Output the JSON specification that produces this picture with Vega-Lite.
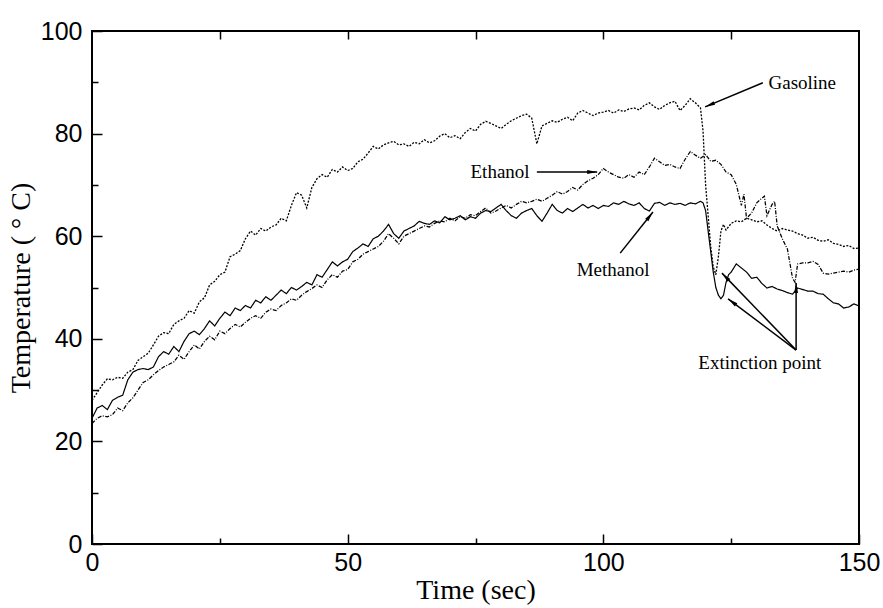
{
"$schema": "https://vega.github.io/schema/vega-lite/v6.json",
"autosize": "none",
"width": 767,
"height": 513,
"padding": {"left": 92, "top": 31, "right": 24, "bottom": 64},
"background": "white",
"config": {
  "view": {"stroke": "black", "strokeWidth": 2},
  "axis": {"domain": false, "grid": false, "tickColor": "black", "tickWidth": 1.5, "labelColor": "black", "labelFont": "Liberation Sans", "labelFontSize": 25, "titleFont": "Liberation Serif", "titleFontSize": 28, "titleFontWeight": "normal", "titleColor": "black", "labelFlush": false, "labelOverlap": false, "labelBound": false}
},
"datasets": {
  "temps": [
{"series":"Gasoline","time":0,"temp":28.0},{"series":"Gasoline","time":1,"temp":29.5},{"series":"Gasoline","time":2,"temp":31.0},{"series":"Gasoline","time":3,"temp":32.2},{"series":"Gasoline","time":4,"temp":32.0},{"series":"Gasoline","time":5,"temp":32.5},{"series":"Gasoline","time":6,"temp":32.3},{"series":"Gasoline","time":7,"temp":33.5},{"series":"Gasoline","time":8,"temp":34.0},{"series":"Gasoline","time":9,"temp":35.8},{"series":"Gasoline","time":10,"temp":36.5},{"series":"Gasoline","time":11,"temp":37.2},{"series":"Gasoline","time":12,"temp":38.8},{"series":"Gasoline","time":13,"temp":40.5},{"series":"Gasoline","time":14,"temp":41.2},{"series":"Gasoline","time":15,"temp":41.0},{"series":"Gasoline","time":16,"temp":42.8},{"series":"Gasoline","time":17,"temp":43.5},{"series":"Gasoline","time":18,"temp":44.0},{"series":"Gasoline","time":19,"temp":45.5},{"series":"Gasoline","time":20,"temp":45.0},{"series":"Gasoline","time":21,"temp":47.2},{"series":"Gasoline","time":22,"temp":48.0},{"series":"Gasoline","time":23,"temp":50.5},{"series":"Gasoline","time":24,"temp":51.2},{"series":"Gasoline","time":25,"temp":52.5},{"series":"Gasoline","time":26,"temp":53.0},{"series":"Gasoline","time":27,"temp":56.0},{"series":"Gasoline","time":28,"temp":56.5},{"series":"Gasoline","time":29,"temp":57.2},{"series":"Gasoline","time":30,"temp":59.5},{"series":"Gasoline","time":31,"temp":61.0},{"series":"Gasoline","time":32,"temp":60.2},{"series":"Gasoline","time":33,"temp":61.5},{"series":"Gasoline","time":34,"temp":61.0},{"series":"Gasoline","time":35,"temp":61.8},{"series":"Gasoline","time":36,"temp":62.2},{"series":"Gasoline","time":37,"temp":63.5},{"series":"Gasoline","time":38,"temp":63.0},{"series":"Gasoline","time":39,"temp":66.0},{"series":"Gasoline","time":40,"temp":68.5},{"series":"Gasoline","time":41,"temp":68.0},{"series":"Gasoline","time":42,"temp":65.5},{"series":"Gasoline","time":43,"temp":69.5},{"series":"Gasoline","time":44,"temp":71.2},{"series":"Gasoline","time":45,"temp":72.0},{"series":"Gasoline","time":46,"temp":71.5},{"series":"Gasoline","time":47,"temp":73.0},{"series":"Gasoline","time":48,"temp":72.5},{"series":"Gasoline","time":49,"temp":73.5},{"series":"Gasoline","time":50,"temp":72.8},{"series":"Gasoline","time":51,"temp":73.2},{"series":"Gasoline","time":52,"temp":74.5},{"series":"Gasoline","time":53,"temp":75.0},{"series":"Gasoline","time":54,"temp":76.2},{"series":"Gasoline","time":55,"temp":77.5},{"series":"Gasoline","time":56,"temp":77.0},{"series":"Gasoline","time":57,"temp":77.8},{"series":"Gasoline","time":58,"temp":78.2},{"series":"Gasoline","time":59,"temp":78.5},{"series":"Gasoline","time":60,"temp":77.8},{"series":"Gasoline","time":61,"temp":78.0},{"series":"Gasoline","time":62,"temp":77.5},{"series":"Gasoline","time":63,"temp":78.3},{"series":"Gasoline","time":64,"temp":78.0},{"series":"Gasoline","time":65,"temp":78.8},{"series":"Gasoline","time":66,"temp":78.2},{"series":"Gasoline","time":67,"temp":78.6},{"series":"Gasoline","time":68,"temp":79.5},{"series":"Gasoline","time":69,"temp":80.0},{"series":"Gasoline","time":70,"temp":79.2},{"series":"Gasoline","time":71,"temp":79.6},{"series":"Gasoline","time":72,"temp":79.0},{"series":"Gasoline","time":73,"temp":80.2},{"series":"Gasoline","time":74,"temp":81.0},{"series":"Gasoline","time":75,"temp":80.5},{"series":"Gasoline","time":76,"temp":81.8},{"series":"Gasoline","time":77,"temp":82.4},{"series":"Gasoline","time":78,"temp":82.0},{"series":"Gasoline","time":79,"temp":81.5},{"series":"Gasoline","time":80,"temp":81.0},{"series":"Gasoline","time":81,"temp":81.8},{"series":"Gasoline","time":82,"temp":82.5},{"series":"Gasoline","time":83,"temp":83.0},{"series":"Gasoline","time":84,"temp":83.5},{"series":"Gasoline","time":85,"temp":83.8},{"series":"Gasoline","time":86,"temp":83.0},{"series":"Gasoline","time":87,"temp":78.0},{"series":"Gasoline","time":88,"temp":81.5},{"series":"Gasoline","time":89,"temp":82.0},{"series":"Gasoline","time":90,"temp":82.5},{"series":"Gasoline","time":91,"temp":82.2},{"series":"Gasoline","time":92,"temp":82.8},{"series":"Gasoline","time":93,"temp":83.2},{"series":"Gasoline","time":94,"temp":82.5},{"series":"Gasoline","time":95,"temp":84.0},{"series":"Gasoline","time":96,"temp":84.5},{"series":"Gasoline","time":97,"temp":84.0},{"series":"Gasoline","time":98,"temp":83.5},{"series":"Gasoline","time":99,"temp":84.0},{"series":"Gasoline","time":100,"temp":84.2},{"series":"Gasoline","time":101,"temp":84.5},{"series":"Gasoline","time":102,"temp":84.0},{"series":"Gasoline","time":103,"temp":84.6},{"series":"Gasoline","time":104,"temp":84.3},{"series":"Gasoline","time":105,"temp":84.8},{"series":"Gasoline","time":106,"temp":85.0},{"series":"Gasoline","time":107,"temp":84.6},{"series":"Gasoline","time":108,"temp":85.5},{"series":"Gasoline","time":109,"temp":86.0},{"series":"Gasoline","time":110,"temp":85.2},{"series":"Gasoline","time":111,"temp":84.7},{"series":"Gasoline","time":112,"temp":85.5},{"series":"Gasoline","time":113,"temp":86.0},{"series":"Gasoline","time":114,"temp":86.3},{"series":"Gasoline","time":115,"temp":84.5},{"series":"Gasoline","time":116,"temp":85.5},{"series":"Gasoline","time":117,"temp":86.8},{"series":"Gasoline","time":118,"temp":86.0},{"series":"Gasoline","time":119,"temp":85.0},{"series":"Gasoline","time":119.5,"temp":80.5},{"series":"Gasoline","time":120,"temp":70.0},{"series":"Gasoline","time":120.5,"temp":64.0},{"series":"Gasoline","time":121,"temp":58.0},{"series":"Gasoline","time":121.5,"temp":54.0},{"series":"Gasoline","time":122,"temp":52.5},{"series":"Gasoline","time":122.5,"temp":56.0},{"series":"Gasoline","time":123,"temp":61.0},{"series":"Gasoline","time":123.5,"temp":62.3},{"series":"Gasoline","time":124,"temp":61.2},{"series":"Gasoline","time":125,"temp":62.5},{"series":"Gasoline","time":126,"temp":63.0},{"series":"Gasoline","time":127,"temp":62.8},{"series":"Gasoline","time":128,"temp":63.5},{"series":"Gasoline","time":129,"temp":63.2},{"series":"Gasoline","time":130,"temp":62.8},{"series":"Gasoline","time":131,"temp":63.0},{"series":"Gasoline","time":132,"temp":62.2},{"series":"Gasoline","time":133,"temp":61.5},{"series":"Gasoline","time":134,"temp":61.0},{"series":"Gasoline","time":135,"temp":61.5},{"series":"Gasoline","time":136,"temp":61.2},{"series":"Gasoline","time":137,"temp":61.0},{"series":"Gasoline","time":138,"temp":60.5},{"series":"Gasoline","time":139,"temp":60.2},{"series":"Gasoline","time":140,"temp":59.6},{"series":"Gasoline","time":141,"temp":59.8},{"series":"Gasoline","time":142,"temp":59.2},{"series":"Gasoline","time":143,"temp":59.0},{"series":"Gasoline","time":144,"temp":59.3},{"series":"Gasoline","time":145,"temp":58.6},{"series":"Gasoline","time":146,"temp":58.4},{"series":"Gasoline","time":147,"temp":58.0},{"series":"Gasoline","time":148,"temp":58.2},{"series":"Gasoline","time":149,"temp":57.6},{"series":"Gasoline","time":150,"temp":57.7},
{"series":"Methanol","time":0,"temp":24.5},{"series":"Methanol","time":1,"temp":26.5},{"series":"Methanol","time":2,"temp":27.0},{"series":"Methanol","time":3,"temp":26.2},{"series":"Methanol","time":4,"temp":28.0},{"series":"Methanol","time":5,"temp":28.6},{"series":"Methanol","time":6,"temp":29.0},{"series":"Methanol","time":7,"temp":32.0},{"series":"Methanol","time":8,"temp":33.5},{"series":"Methanol","time":9,"temp":34.0},{"series":"Methanol","time":10,"temp":34.2},{"series":"Methanol","time":11,"temp":34.0},{"series":"Methanol","time":12,"temp":34.5},{"series":"Methanol","time":13,"temp":36.5},{"series":"Methanol","time":14,"temp":37.5},{"series":"Methanol","time":15,"temp":37.0},{"series":"Methanol","time":16,"temp":38.5},{"series":"Methanol","time":17,"temp":37.5},{"series":"Methanol","time":18,"temp":39.5},{"series":"Methanol","time":19,"temp":41.0},{"series":"Methanol","time":20,"temp":41.5},{"series":"Methanol","time":21,"temp":40.8},{"series":"Methanol","time":22,"temp":42.0},{"series":"Methanol","time":23,"temp":43.5},{"series":"Methanol","time":24,"temp":42.5},{"series":"Methanol","time":25,"temp":44.0},{"series":"Methanol","time":26,"temp":45.2},{"series":"Methanol","time":27,"temp":44.5},{"series":"Methanol","time":28,"temp":46.0},{"series":"Methanol","time":29,"temp":45.5},{"series":"Methanol","time":30,"temp":46.5},{"series":"Methanol","time":31,"temp":46.0},{"series":"Methanol","time":32,"temp":47.5},{"series":"Methanol","time":33,"temp":47.0},{"series":"Methanol","time":34,"temp":48.2},{"series":"Methanol","time":35,"temp":47.5},{"series":"Methanol","time":36,"temp":48.5},{"series":"Methanol","time":37,"temp":49.5},{"series":"Methanol","time":38,"temp":48.8},{"series":"Methanol","time":39,"temp":50.0},{"series":"Methanol","time":40,"temp":49.5},{"series":"Methanol","time":41,"temp":50.2},{"series":"Methanol","time":42,"temp":51.0},{"series":"Methanol","time":43,"temp":50.5},{"series":"Methanol","time":44,"temp":52.5},{"series":"Methanol","time":45,"temp":52.0},{"series":"Methanol","time":46,"temp":53.5},{"series":"Methanol","time":47,"temp":55.0},{"series":"Methanol","time":48,"temp":54.2},{"series":"Methanol","time":49,"temp":55.0},{"series":"Methanol","time":50,"temp":55.5},{"series":"Methanol","time":51,"temp":57.0},{"series":"Methanol","time":52,"temp":57.7},{"series":"Methanol","time":53,"temp":58.5},{"series":"Methanol","time":54,"temp":58.0},{"series":"Methanol","time":55,"temp":59.5},{"series":"Methanol","time":56,"temp":60.0},{"series":"Methanol","time":57,"temp":61.0},{"series":"Methanol","time":58,"temp":62.3},{"series":"Methanol","time":59,"temp":60.5},{"series":"Methanol","time":60,"temp":59.6},{"series":"Methanol","time":61,"temp":61.0},{"series":"Methanol","time":62,"temp":61.5},{"series":"Methanol","time":63,"temp":62.0},{"series":"Methanol","time":64,"temp":62.9},{"series":"Methanol","time":65,"temp":62.5},{"series":"Methanol","time":66,"temp":62.3},{"series":"Methanol","time":67,"temp":63.0},{"series":"Methanol","time":68,"temp":62.6},{"series":"Methanol","time":69,"temp":63.8},{"series":"Methanol","time":70,"temp":63.2},{"series":"Methanol","time":71,"temp":63.5},{"series":"Methanol","time":72,"temp":64.0},{"series":"Methanol","time":73,"temp":63.2},{"series":"Methanol","time":74,"temp":63.8},{"series":"Methanol","time":75,"temp":63.5},{"series":"Methanol","time":76,"temp":64.5},{"series":"Methanol","time":77,"temp":65.0},{"series":"Methanol","time":78,"temp":64.8},{"series":"Methanol","time":79,"temp":65.5},{"series":"Methanol","time":80,"temp":66.2},{"series":"Methanol","time":81,"temp":65.0},{"series":"Methanol","time":82,"temp":64.0},{"series":"Methanol","time":83,"temp":63.5},{"series":"Methanol","time":84,"temp":64.5},{"series":"Methanol","time":85,"temp":65.0},{"series":"Methanol","time":86,"temp":65.4},{"series":"Methanol","time":87,"temp":64.0},{"series":"Methanol","time":88,"temp":62.9},{"series":"Methanol","time":89,"temp":64.5},{"series":"Methanol","time":90,"temp":66.2},{"series":"Methanol","time":91,"temp":65.0},{"series":"Methanol","time":92,"temp":64.5},{"series":"Methanol","time":93,"temp":65.4},{"series":"Methanol","time":94,"temp":64.8},{"series":"Methanol","time":95,"temp":65.5},{"series":"Methanol","time":96,"temp":66.2},{"series":"Methanol","time":97,"temp":65.5},{"series":"Methanol","time":98,"temp":66.0},{"series":"Methanol","time":99,"temp":65.4},{"series":"Methanol","time":100,"temp":66.0},{"series":"Methanol","time":101,"temp":65.8},{"series":"Methanol","time":102,"temp":66.5},{"series":"Methanol","time":103,"temp":66.2},{"series":"Methanol","time":104,"temp":66.8},{"series":"Methanol","time":105,"temp":66.3},{"series":"Methanol","time":106,"temp":66.0},{"series":"Methanol","time":107,"temp":66.5},{"series":"Methanol","time":108,"temp":65.4},{"series":"Methanol","time":109,"temp":64.9},{"series":"Methanol","time":110,"temp":66.4},{"series":"Methanol","time":111,"temp":66.6},{"series":"Methanol","time":112,"temp":66.0},{"series":"Methanol","time":113,"temp":66.5},{"series":"Methanol","time":114,"temp":66.2},{"series":"Methanol","time":115,"temp":66.4},{"series":"Methanol","time":116,"temp":66.0},{"series":"Methanol","time":117,"temp":66.5},{"series":"Methanol","time":118,"temp":66.3},{"series":"Methanol","time":119,"temp":66.8},{"series":"Methanol","time":119.5,"temp":66.5},{"series":"Methanol","time":120,"temp":65.0},{"series":"Methanol","time":120.5,"temp":61.0},{"series":"Methanol","time":121,"temp":57.0},{"series":"Methanol","time":121.5,"temp":53.0},{"series":"Methanol","time":122,"temp":50.0},{"series":"Methanol","time":122.5,"temp":48.5},{"series":"Methanol","time":123,"temp":47.8},{"series":"Methanol","time":123.5,"temp":48.5},{"series":"Methanol","time":124,"temp":51.0},{"series":"Methanol","time":124.5,"temp":52.5},{"series":"Methanol","time":125,"temp":53.0},{"series":"Methanol","time":126,"temp":54.6},{"series":"Methanol","time":127,"temp":53.8},{"series":"Methanol","time":128,"temp":53.0},{"series":"Methanol","time":129,"temp":51.8},{"series":"Methanol","time":130,"temp":52.0},{"series":"Methanol","time":131,"temp":50.8},{"series":"Methanol","time":132,"temp":49.9},{"series":"Methanol","time":133,"temp":50.2},{"series":"Methanol","time":134,"temp":49.7},{"series":"Methanol","time":135,"temp":49.4},{"series":"Methanol","time":136,"temp":49.0},{"series":"Methanol","time":137,"temp":48.7},{"series":"Methanol","time":138,"temp":49.9},{"series":"Methanol","time":139,"temp":49.6},{"series":"Methanol","time":140,"temp":49.3},{"series":"Methanol","time":141,"temp":49.3},{"series":"Methanol","time":142,"temp":48.8},{"series":"Methanol","time":143,"temp":48.7},{"series":"Methanol","time":144,"temp":47.8},{"series":"Methanol","time":145,"temp":47.0},{"series":"Methanol","time":146,"temp":46.8},{"series":"Methanol","time":147,"temp":46.0},{"series":"Methanol","time":148,"temp":46.2},{"series":"Methanol","time":149,"temp":46.8},{"series":"Methanol","time":150,"temp":46.4},
{"series":"Ethanol","time":0,"temp":23.5},{"series":"Ethanol","time":1,"temp":24.5},{"series":"Ethanol","time":2,"temp":25.0},{"series":"Ethanol","time":3,"temp":24.8},{"series":"Ethanol","time":4,"temp":25.2},{"series":"Ethanol","time":5,"temp":26.5},{"series":"Ethanol","time":6,"temp":26.0},{"series":"Ethanol","time":7,"temp":27.5},{"series":"Ethanol","time":8,"temp":28.5},{"series":"Ethanol","time":9,"temp":30.0},{"series":"Ethanol","time":10,"temp":31.5},{"series":"Ethanol","time":11,"temp":32.0},{"series":"Ethanol","time":12,"temp":33.0},{"series":"Ethanol","time":13,"temp":33.8},{"series":"Ethanol","time":14,"temp":34.5},{"series":"Ethanol","time":15,"temp":35.0},{"series":"Ethanol","time":16,"temp":35.5},{"series":"Ethanol","time":17,"temp":36.8},{"series":"Ethanol","time":18,"temp":36.0},{"series":"Ethanol","time":19,"temp":37.5},{"series":"Ethanol","time":20,"temp":38.8},{"series":"Ethanol","time":21,"temp":38.0},{"series":"Ethanol","time":22,"temp":39.5},{"series":"Ethanol","time":23,"temp":40.5},{"series":"Ethanol","time":24,"temp":39.8},{"series":"Ethanol","time":25,"temp":41.5},{"series":"Ethanol","time":26,"temp":41.0},{"series":"Ethanol","time":27,"temp":42.0},{"series":"Ethanol","time":28,"temp":42.8},{"series":"Ethanol","time":29,"temp":42.3},{"series":"Ethanol","time":30,"temp":43.2},{"series":"Ethanol","time":31,"temp":44.0},{"series":"Ethanol","time":32,"temp":44.5},{"series":"Ethanol","time":33,"temp":44.0},{"series":"Ethanol","time":34,"temp":45.2},{"series":"Ethanol","time":35,"temp":45.8},{"series":"Ethanol","time":36,"temp":45.5},{"series":"Ethanol","time":37,"temp":46.5},{"series":"Ethanol","time":38,"temp":47.0},{"series":"Ethanol","time":39,"temp":47.8},{"series":"Ethanol","time":40,"temp":47.5},{"series":"Ethanol","time":41,"temp":48.5},{"series":"Ethanol","time":42,"temp":49.2},{"series":"Ethanol","time":43,"temp":49.8},{"series":"Ethanol","time":44,"temp":50.5},{"series":"Ethanol","time":45,"temp":50.0},{"series":"Ethanol","time":46,"temp":51.5},{"series":"Ethanol","time":47,"temp":52.5},{"series":"Ethanol","time":48,"temp":52.0},{"series":"Ethanol","time":49,"temp":53.2},{"series":"Ethanol","time":50,"temp":53.5},{"series":"Ethanol","time":51,"temp":55.0},{"series":"Ethanol","time":52,"temp":55.5},{"series":"Ethanol","time":53,"temp":56.5},{"series":"Ethanol","time":54,"temp":57.0},{"series":"Ethanol","time":55,"temp":57.5},{"series":"Ethanol","time":56,"temp":58.0},{"series":"Ethanol","time":57,"temp":59.0},{"series":"Ethanol","time":58,"temp":60.5},{"series":"Ethanol","time":59,"temp":59.6},{"series":"Ethanol","time":60,"temp":58.5},{"series":"Ethanol","time":61,"temp":60.0},{"series":"Ethanol","time":62,"temp":60.5},{"series":"Ethanol","time":63,"temp":61.0},{"series":"Ethanol","time":64,"temp":61.5},{"series":"Ethanol","time":65,"temp":62.0},{"series":"Ethanol","time":66,"temp":61.8},{"series":"Ethanol","time":67,"temp":62.5},{"series":"Ethanol","time":68,"temp":63.0},{"series":"Ethanol","time":69,"temp":62.8},{"series":"Ethanol","time":70,"temp":63.5},{"series":"Ethanol","time":71,"temp":63.0},{"series":"Ethanol","time":72,"temp":63.8},{"series":"Ethanol","time":73,"temp":63.5},{"series":"Ethanol","time":74,"temp":64.2},{"series":"Ethanol","time":75,"temp":64.0},{"series":"Ethanol","time":76,"temp":64.8},{"series":"Ethanol","time":77,"temp":65.5},{"series":"Ethanol","time":78,"temp":64.5},{"series":"Ethanol","time":79,"temp":64.9},{"series":"Ethanol","time":80,"temp":65.5},{"series":"Ethanol","time":81,"temp":66.0},{"series":"Ethanol","time":82,"temp":65.5},{"series":"Ethanol","time":83,"temp":66.2},{"series":"Ethanol","time":84,"temp":66.8},{"series":"Ethanol","time":85,"temp":66.5},{"series":"Ethanol","time":86,"temp":66.8},{"series":"Ethanol","time":87,"temp":67.2},{"series":"Ethanol","time":88,"temp":66.8},{"series":"Ethanol","time":89,"temp":67.4},{"series":"Ethanol","time":90,"temp":68.0},{"series":"Ethanol","time":91,"temp":68.7},{"series":"Ethanol","time":92,"temp":68.2},{"series":"Ethanol","time":93,"temp":68.7},{"series":"Ethanol","time":94,"temp":69.5},{"series":"Ethanol","time":95,"temp":69.0},{"series":"Ethanol","time":96,"temp":70.1},{"series":"Ethanol","time":97,"temp":70.8},{"series":"Ethanol","time":98,"temp":71.3},{"series":"Ethanol","time":99,"temp":72.0},{"series":"Ethanol","time":100,"temp":73.2},{"series":"Ethanol","time":101,"temp":72.5},{"series":"Ethanol","time":102,"temp":72.0},{"series":"Ethanol","time":103,"temp":71.5},{"series":"Ethanol","time":104,"temp":71.3},{"series":"Ethanol","time":105,"temp":72.0},{"series":"Ethanol","time":106,"temp":71.5},{"series":"Ethanol","time":107,"temp":72.5},{"series":"Ethanol","time":108,"temp":72.0},{"series":"Ethanol","time":109,"temp":73.5},{"series":"Ethanol","time":110,"temp":75.2},{"series":"Ethanol","time":111,"temp":74.5},{"series":"Ethanol","time":112,"temp":73.8},{"series":"Ethanol","time":113,"temp":74.0},{"series":"Ethanol","time":114,"temp":73.5},{"series":"Ethanol","time":115,"temp":73.2},{"series":"Ethanol","time":116,"temp":75.0},{"series":"Ethanol","time":117,"temp":76.5},{"series":"Ethanol","time":118,"temp":75.8},{"series":"Ethanol","time":119,"temp":75.2},{"series":"Ethanol","time":120,"temp":75.9},{"series":"Ethanol","time":121,"temp":74.6},{"series":"Ethanol","time":122,"temp":74.8},{"series":"Ethanol","time":123,"temp":74.0},{"series":"Ethanol","time":124,"temp":72.5},{"series":"Ethanol","time":125,"temp":72.0},{"series":"Ethanol","time":126,"temp":70.1},{"series":"Ethanol","time":127,"temp":66.0},{"series":"Ethanol","time":127.5,"temp":68.2},{"series":"Ethanol","time":128,"temp":63.5},{"series":"Ethanol","time":129,"temp":64.5},{"series":"Ethanol","time":130,"temp":66.5},{"series":"Ethanol","time":131,"temp":67.4},{"series":"Ethanol","time":131.5,"temp":67.8},{"series":"Ethanol","time":132,"temp":64.0},{"series":"Ethanol","time":133,"temp":66.2},{"series":"Ethanol","time":133.5,"temp":66.8},{"series":"Ethanol","time":134,"temp":62.0},{"series":"Ethanol","time":135,"temp":59.5},{"series":"Ethanol","time":136,"temp":57.5},{"series":"Ethanol","time":137,"temp":51.8},{"series":"Ethanol","time":137.5,"temp":51.0},{"series":"Ethanol","time":138,"temp":54.6},{"series":"Ethanol","time":139,"temp":54.8},{"series":"Ethanol","time":140,"temp":54.8},{"series":"Ethanol","time":141,"temp":55.1},{"series":"Ethanol","time":142,"temp":54.5},{"series":"Ethanol","time":143,"temp":52.8},{"series":"Ethanol","time":144,"temp":52.6},{"series":"Ethanol","time":145,"temp":52.8},{"series":"Ethanol","time":146,"temp":53.0},{"series":"Ethanol","time":147,"temp":53.2},{"series":"Ethanol","time":148,"temp":53.0},{"series":"Ethanol","time":149,"temp":53.4},{"series":"Ethanol","time":150,"temp":53.6}
  ],
  "arrows": [
    {"name":"gas","time":131.2,"temp":89.9,"time2":119.9,"temp2":85.2},
    {"name":"eth","time":87.0,"temp":72.5,"time2":98.8,"temp2":72.5},
    {"name":"meth","time":103.3,"temp":56.7,"time2":109.7,"temp2":64.7},
    {"name":"ext1","time":137.7,"temp":37.8,"time2":123.2,"temp2":52.8},
    {"name":"ext2","time":137.7,"temp":37.8,"time2":124.4,"temp2":47.8},
    {"name":"ext3","time":137.7,"temp":37.8,"time2":137.7,"temp2":50.9}
  ],
  "notes": [
    {"label":"Gasoline","time":138.9,"temp":89.9},
    {"label":"Ethanol","time":79.8,"temp":72.5},
    {"label":"Methanol","time":101.9,"temp":53.4},
    {"label":"Extinction point","time":130.6,"temp":35.3}
  ]
},
"resolve": {"axis": {"x": "independent", "y": "independent"}},
"layer": [
  {
    "data": {"name": "temps"},
    "mark": {"type": "line", "interpolate": "linear", "color": "black"},
    "encoding": {
      "x": {"field": "time", "type": "quantitative", "scale": {"domain": [0, 150], "nice": false},
            "axis": {"orient": "bottom", "values": [0, 50, 100, 150], "tickSize": -10, "labelPadding": 16, "title": "Time (sec)", "titlePadding": 1}},
      "y": {"field": "temp", "type": "quantitative", "scale": {"domain": [0, 100], "nice": false},
            "axis": {"orient": "left", "values": [0, 20, 40, 60, 80, 100], "tickSize": -10, "labelPadding": 20, "title": "Temperature ( \u00b0 C)", "titlePadding": 5}},
      "detail": {"field": "series"},
      "strokeDash": {"field": "series", "type": "nominal", "scale": {"domain": ["Gasoline", "Ethanol", "Methanol"], "range": [[2, 1.5], [4, 1.5, 1, 1.5], [1, 0]]}, "legend": null},
      "strokeWidth": {"field": "series", "type": "nominal", "scale": {"domain": ["Gasoline", "Ethanol", "Methanol"], "range": [1.3, 1.2, 2.6]}, "legend": null}
    }
  },
  {
    "data": {"name": "arrows"},
    "mark": {"type": "rule", "color": "black", "strokeWidth": 1.5},
    "encoding": {
      "x": {"field": "time", "type": "quantitative", "axis": {"orient": "bottom", "values": [25, 75, 125], "tickSize": -6, "labels": false, "title": null}},
      "y": {"field": "temp", "type": "quantitative", "axis": {"orient": "left", "values": [10, 30, 50, 70, 90], "tickSize": -6, "labels": false, "title": null}},
      "x2": {"field": "time2"},
      "y2": {"field": "temp2"}
    }
  },
  {
    "data": {"name": "arrows"},
    "transform": [{"filter": "datum.name == 'gas'"}],
    "mark": {"type": "point", "shape": "M0,0L0.4,2L-0.4,2Z", "filled": true, "color": "black", "opacity": 1, "size": 100, "angle": 247},
    "encoding": {
      "x": {"field": "time2", "type": "quantitative", "axis": {"orient": "top", "values": [25, 50, 75, 100, 125], "tickSize": -8, "labels": false, "title": null}},
      "y": {"field": "temp2", "type": "quantitative", "axis": null}
    }
  },
  {
    "data": {"name": "arrows"},
    "transform": [{"filter": "datum.name == 'eth'"}],
    "mark": {"type": "point", "shape": "M0,0L0.4,2L-0.4,2Z", "filled": true, "color": "black", "opacity": 1, "size": 100, "angle": 90},
    "encoding": {
      "x": {"field": "time2", "type": "quantitative", "axis": null},
      "y": {"field": "temp2", "type": "quantitative", "axis": null}
    }
  },
  {
    "data": {"name": "arrows"},
    "transform": [{"filter": "datum.name == 'meth'"}],
    "mark": {"type": "point", "shape": "M0,0L0.4,2L-0.4,2Z", "filled": true, "color": "black", "opacity": 1, "size": 100, "angle": 38},
    "encoding": {
      "x": {"field": "time2", "type": "quantitative", "axis": null},
      "y": {"field": "temp2", "type": "quantitative", "axis": null}
    }
  },
  {
    "data": {"name": "arrows"},
    "transform": [{"filter": "datum.name == 'ext1'"}],
    "mark": {"type": "point", "shape": "M0,0L0.4,2L-0.4,2Z", "filled": true, "color": "black", "opacity": 1, "size": 100, "angle": 316},
    "encoding": {
      "x": {"field": "time2", "type": "quantitative", "axis": null},
      "y": {"field": "temp2", "type": "quantitative", "axis": null}
    }
  },
  {
    "data": {"name": "arrows"},
    "transform": [{"filter": "datum.name == 'ext2'"}],
    "mark": {"type": "point", "shape": "M0,0L0.4,2L-0.4,2Z", "filled": true, "color": "black", "opacity": 1, "size": 100, "angle": 307},
    "encoding": {
      "x": {"field": "time2", "type": "quantitative", "axis": null},
      "y": {"field": "temp2", "type": "quantitative", "axis": null}
    }
  },
  {
    "data": {"name": "arrows"},
    "transform": [{"filter": "datum.name == 'ext3'"}],
    "mark": {"type": "point", "shape": "M0,0L0.4,2L-0.4,2Z", "filled": true, "color": "black", "opacity": 1, "size": 100, "angle": 0},
    "encoding": {
      "x": {"field": "time2", "type": "quantitative", "axis": null},
      "y": {"field": "temp2", "type": "quantitative", "axis": null}
    }
  },
  {
    "data": {"name": "notes"},
    "mark": {"type": "text", "font": "Liberation Serif", "fontSize": 19, "color": "black", "align": "center", "baseline": "middle"},
    "encoding": {
      "x": {"field": "time", "type": "quantitative", "axis": null},
      "y": {"field": "temp", "type": "quantitative", "axis": null},
      "text": {"field": "label"}
    }
  }
]
}
